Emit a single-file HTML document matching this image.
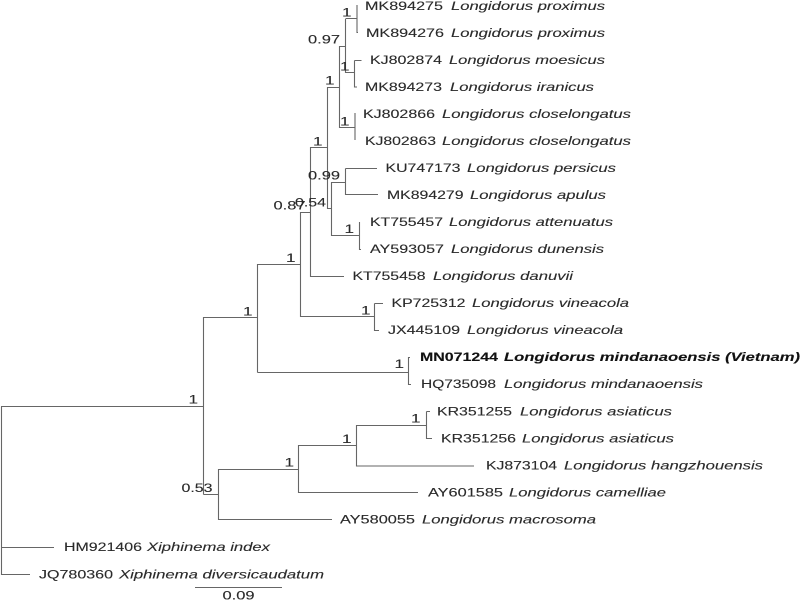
<!DOCTYPE html>
<html><head><meta charset="utf-8"><style>
html,body{margin:0;padding:0;background:#fff;width:800px;height:600px;overflow:hidden}
svg{display:block;filter:blur(0.3px)}
text{font-family:"Liberation Sans",sans-serif;font-size:12.2px;fill:#2a2a2a;stroke:#2a2a2a;stroke-width:0.12px}
.i{font-style:italic}
.b{font-weight:bold;fill:#111;stroke:#111}
</style></head><body>
<svg width="800" height="600" viewBox="0 0 800 600" xmlns="http://www.w3.org/2000/svg">
<rect width="800" height="600" fill="#fff"/>
<path fill="none" stroke="#666" stroke-width="1.1" d="
M1.5 406.5V574.5H30M1 406.5H203.5M1 547.5H54
M203.5 317V494.5M203.5 317.5H257.5M257.5 264V372.5M257.5 264.5H300.5M257.5 372.5H408.5
M408.5 357V384.5H411M408.5 357.5H410
M300.5 212V316.5H374.5M300.5 212.5H310.5M374.5 303.5V330.5H379M374.5 303.5H383
M310.5 147V276.5H344M310.5 147.5H327.5
M327.5 87V208.5H331.5M327.5 87.5H339.5
M331.5 182V235.5H359.5M331.5 182.5H345.5M345.5 168.5V194.5H378M345.5 168.5H377
M359.5 222V249.5H361
M339.5 46V127.5H355M339.5 46.5H345.5
M355 113V140
M345.5 19V72.5H354.5M345.5 18.5H357
M357 5V32.5H358
M354.5 60.5V87H357M354.5 60.5H361.5
M203.5 494.5H218.5M218.5 469V519.5H332M218.5 469.5H298.5
M298.5 445V492.5H418M298.5 445.5H356.5
M356.5 425V466H474M356.5 425.5H426.5
M426.5 411.5V438.5H432M426.5 411.5H430
M195 587.5H282"/>
<g transform="translate(0,0.7)">
<text x="365" y="9.5" textLength="78" lengthAdjust="spacingAndGlyphs">MK894275</text><text class="i" x="451" y="9.5" textLength="154" lengthAdjust="spacingAndGlyphs">Longidorus proximus</text>
<text x="366" y="36.5" textLength="78" lengthAdjust="spacingAndGlyphs">MK894276</text><text class="i" x="451" y="36.5" textLength="154" lengthAdjust="spacingAndGlyphs">Longidorus proximus</text>
<text x="370" y="63.5" textLength="72" lengthAdjust="spacingAndGlyphs">KJ802874</text><text class="i" x="449" y="63.5" textLength="156" lengthAdjust="spacingAndGlyphs">Longidorus moesicus</text>
<text x="365" y="90.5" textLength="77" lengthAdjust="spacingAndGlyphs">MK894273</text><text class="i" x="450" y="90.5" textLength="144" lengthAdjust="spacingAndGlyphs">Longidorus iranicus</text>
<text x="363" y="117.5" textLength="72" lengthAdjust="spacingAndGlyphs">KJ802866</text><text class="i" x="442" y="117.5" textLength="189" lengthAdjust="spacingAndGlyphs">Longidorus closelongatus</text>
<text x="365" y="144.5" textLength="71" lengthAdjust="spacingAndGlyphs">KJ802863</text><text class="i" x="442" y="144.5" textLength="189" lengthAdjust="spacingAndGlyphs">Longidorus closelongatus</text>
<text x="385.5" y="171.5" textLength="75" lengthAdjust="spacingAndGlyphs">KU747173</text><text class="i" x="467" y="171.5" textLength="149" lengthAdjust="spacingAndGlyphs">Longidorus persicus</text>
<text x="387" y="198.5" textLength="76.5" lengthAdjust="spacingAndGlyphs">MK894279</text><text class="i" x="470" y="198.5" textLength="136" lengthAdjust="spacingAndGlyphs">Longidorus apulus</text>
<text x="370" y="225.5" textLength="73" lengthAdjust="spacingAndGlyphs">KT755457</text><text class="i" x="449" y="225.5" textLength="164" lengthAdjust="spacingAndGlyphs">Longidorus attenuatus</text>
<text x="370" y="252.5" textLength="74" lengthAdjust="spacingAndGlyphs">AY593057</text><text class="i" x="451" y="252.5" textLength="153" lengthAdjust="spacingAndGlyphs">Longidorus dunensis</text>
<text x="352.5" y="279.5" textLength="73" lengthAdjust="spacingAndGlyphs">KT755458</text><text class="i" x="433" y="279.5" textLength="140" lengthAdjust="spacingAndGlyphs">Longidorus danuvii</text>
<text x="391.5" y="306.5" textLength="74" lengthAdjust="spacingAndGlyphs">KP725312</text><text class="i" x="472" y="306.5" textLength="157" lengthAdjust="spacingAndGlyphs">Longidorus vineacola</text>
<text x="388" y="333.5" textLength="72" lengthAdjust="spacingAndGlyphs">JX445109</text><text class="i" x="467" y="333.5" textLength="156" lengthAdjust="spacingAndGlyphs">Longidorus vineacola</text>
<text class="b" x="420" y="360.5" textLength="78" lengthAdjust="spacingAndGlyphs">MN071244</text><text class="b i" x="504" y="360.5" textLength="296" lengthAdjust="spacingAndGlyphs">Longidorus mindanaoensis (Vietnam)</text>
<text x="421" y="387.5" textLength="75" lengthAdjust="spacingAndGlyphs">HQ735098</text><text class="i" x="504" y="387.5" textLength="199" lengthAdjust="spacingAndGlyphs">Longidorus mindanaoensis</text>
<text x="437" y="415" textLength="75" lengthAdjust="spacingAndGlyphs">KR351255</text><text class="i" x="520" y="415" textLength="152" lengthAdjust="spacingAndGlyphs">Longidorus asiaticus</text>
<text x="441" y="442" textLength="75" lengthAdjust="spacingAndGlyphs">KR351256</text><text class="i" x="522" y="442" textLength="152" lengthAdjust="spacingAndGlyphs">Longidorus asiaticus</text>
<text x="486" y="469" textLength="71" lengthAdjust="spacingAndGlyphs">KJ873104</text><text class="i" x="564" y="469" textLength="199" lengthAdjust="spacingAndGlyphs">Longidorus hangzhouensis</text>
<text x="428" y="496" textLength="75" lengthAdjust="spacingAndGlyphs">AY601585</text><text class="i" x="509" y="496" textLength="157" lengthAdjust="spacingAndGlyphs">Longidorus camelliae</text>
<text x="340" y="523" textLength="75" lengthAdjust="spacingAndGlyphs">AY580055</text><text class="i" x="422" y="523" textLength="174" lengthAdjust="spacingAndGlyphs">Longidorus macrosoma</text>
<text x="64" y="550.5" textLength="78" lengthAdjust="spacingAndGlyphs">HM921406</text><text class="i" x="147" y="550.5" textLength="123" lengthAdjust="spacingAndGlyphs">Xiphinema index</text>
<text x="39" y="578" textLength="74" lengthAdjust="spacingAndGlyphs">JQ780360</text><text class="i" x="119" y="578" textLength="205" lengthAdjust="spacingAndGlyphs">Xiphinema diversicaudatum</text>
</g>
<g transform="translate(0,0.5)">
<text x="342" y="16" textLength="9.5" lengthAdjust="spacingAndGlyphs">1</text>
<text x="308" y="43" textLength="32" lengthAdjust="spacingAndGlyphs">0.97</text>
<text x="340" y="70" textLength="9.5" lengthAdjust="spacingAndGlyphs">1</text>
<text x="325" y="84" textLength="9.5" lengthAdjust="spacingAndGlyphs">1</text>
<text x="340" y="125" textLength="9.5" lengthAdjust="spacingAndGlyphs">1</text>
<text x="313" y="145" textLength="9.5" lengthAdjust="spacingAndGlyphs">1</text>
<text x="308" y="179" textLength="32" lengthAdjust="spacingAndGlyphs">0.99</text>
<text x="273.5" y="209" textLength="32" lengthAdjust="spacingAndGlyphs">0.87</text>
<text x="295" y="206" textLength="31" lengthAdjust="spacingAndGlyphs">0.54</text>
<text x="344.5" y="232.5" textLength="9.5" lengthAdjust="spacingAndGlyphs">1</text>
<text x="286" y="261.5" textLength="9.5" lengthAdjust="spacingAndGlyphs">1</text>
<text x="361" y="314" textLength="9.5" lengthAdjust="spacingAndGlyphs">1</text>
<text x="394.5" y="367.5" textLength="9.5" lengthAdjust="spacingAndGlyphs">1</text>
<text x="243" y="315" textLength="9.5" lengthAdjust="spacingAndGlyphs">1</text>
<text x="188.5" y="403" textLength="9.5" lengthAdjust="spacingAndGlyphs">1</text>
<text x="284.5" y="466" textLength="9.5" lengthAdjust="spacingAndGlyphs">1</text>
<text x="181.5" y="491.5" textLength="31" lengthAdjust="spacingAndGlyphs">0.53</text>
<text x="411" y="422" textLength="9.5" lengthAdjust="spacingAndGlyphs">1</text>
<text x="342" y="442.5" textLength="9.5" lengthAdjust="spacingAndGlyphs">1</text>
<text x="222.5" y="599" textLength="32" lengthAdjust="spacingAndGlyphs">0.09</text>
</g>
</svg>
</body></html>
